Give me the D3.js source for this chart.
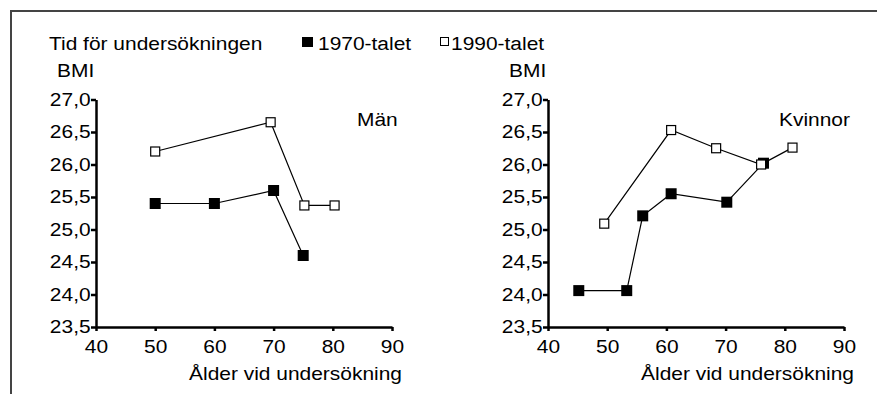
<!DOCTYPE html>
<html>
<head>
<meta charset="utf-8">
<script src="https://cdn.jsdelivr.net/npm/d3@7"></script>
<style>
  body { margin: 0; background: #fff; }
  svg { display: block; font-family: "Liberation Sans", Arial, sans-serif; }
</style>
</head>
<body>
<svg id="chart" width="877" height="394"></svg>
<script>
// BMI by age at examination, 1970s vs 1990s
const xTicks = [40, 50, 60, 70, 80, 90];
const yTicks = [23.5, 24.0, 24.5, 25.0, 25.5, 26.0, 26.5, 27.0];

const ageMen1970 = [50, 60, 70, 75];
const bmiMen1970 = [25.4, 25.4, 25.6, 24.6];
const ageMen1990 = [50, 69.5, 75.2, 80.3];
const bmiMen1990 = [26.2, 26.65, 25.37, 25.37];

const ageWomen1970 = [45.2, 53.3, 56, 60.8, 70.2, 76.4];
const bmiWomen1970 = [24.06, 24.06, 25.21, 25.55, 25.42, 26.02];
const ageWomen1990 = [49.5, 60.8, 68.4, 76, 81.3];
const bmiWomen1990 = [25.09, 26.53, 26.25, 26.0, 26.26];

const fontSize = 18.7;
const stretch = 1.12;
const svg = d3.select("#chart");

// frame
svg.append("path")
    .attr("d", "M11,394V11H877")
    .attr("fill", "none")
    .attr("stroke", "#444")
    .attr("stroke-width", 2);

function label(x, y, text, anchor = "start") {
    return svg.append("text")
        .attr("transform", `translate(${x},${y}) scale(${stretch},1)`)
        .attr("text-anchor", anchor)
        .attr("font-size", fontSize)
        .attr("fill", "#000")
        .text(text);
}

function panel(x0, x1, title, titleX, ages70, bmi70, ages90, bmi90) {
    const x = d3.scaleLinear().domain([40, 90]).range([x0, x1]);
    const y = d3.scaleLinear().domain([23.5, 27]).range([327, 99.5]);

    const fmt = d => d.toFixed(1).replace(".", ",");

    const gy = svg.append("g")
        .attr("transform", `translate(${x0},0)`)
        .call(d3.axisLeft(y).tickValues(yTicks).tickFormat(fmt).tickSize(5).tickSizeOuter(0));
    const gx = svg.append("g")
        .attr("transform", `translate(0,327)`)
        .call(d3.axisBottom(x).tickValues(xTicks).tickSize(4).tickSizeOuter(0));

    [gx, gy].forEach(g => {
        g.select(".domain").attr("stroke", "#000").attr("stroke-width", 2.5);
        g.selectAll(".tick line").attr("stroke", "#000").attr("stroke-width", 2.5);
        g.selectAll(".tick text")
            .attr("font-size", fontSize)
            .attr("font-family", "Liberation Sans, Arial, sans-serif")
            .attr("fill", "#000");
    });
    gy.selectAll(".tick text").attr("x", -5.4 / stretch).attr("transform", `scale(${stretch},1)`);
    gx.selectAll(".tick text").attr("y", 12.7).attr("dy", "0.71em").attr("transform", `scale(${stretch},1)`);
    gx.selectAll(".tick text").attr("dy", null).attr("y", 26);

    label(x0 - 39, 77, "BMI");
    label(titleX, 126, title);
    label(x1 + 10, 380, "Ålder vid undersökning", "end");

    const line = d3.line().x(d => x(d[0])).y(d => y(d[1]));
    const pts70 = ages70.map((a, i) => [a, bmi70[i]]);
    const pts90 = ages90.map((a, i) => [a, bmi90[i]]);

    svg.append("path").datum(pts70).attr("d", line)
        .attr("fill", "none").attr("stroke", "#000").attr("stroke-width", 1.2);
    svg.append("path").datum(pts90).attr("d", line)
        .attr("fill", "none").attr("stroke", "#000").attr("stroke-width", 1.2);

    svg.append("g").selectAll("rect").data(pts70).join("rect")
        .attr("x", d => x(d[0]) - 5.5)
        .attr("y", d => y(d[1]) - 5.5)
        .attr("width", 11).attr("height", 11)
        .attr("fill", "#000");
    svg.append("g").selectAll("rect").data(pts90).join("rect")
        .attr("x", d => x(d[0]) - 4.5)
        .attr("y", d => y(d[1]) - 4.5)
        .attr("width", 9).attr("height", 9)
        .attr("fill", "#fff").attr("stroke", "#000").attr("stroke-width", 1.2);
}

panel(96, 392, "Män", 357, ageMen1970, bmiMen1970, ageMen1990, bmiMen1990);
panel(548, 844, "Kvinnor", 779, ageWomen1970, bmiWomen1970, ageWomen1990, bmiWomen1990);

// legend
label(49, 50, "Tid för undersökningen");
svg.append("rect").attr("x", 302).attr("y", 37).attr("width", 11).attr("height", 10).attr("fill", "#000");
label(318, 50, "1970-talet");
svg.append("rect").attr("x", 440.5).attr("y", 37.5).attr("width", 8).attr("height", 8)
    .attr("fill", "#fff").attr("stroke", "#000").attr("stroke-width", 1);
label(451, 50, "1990-talet");
</script>
</body>
</html>
